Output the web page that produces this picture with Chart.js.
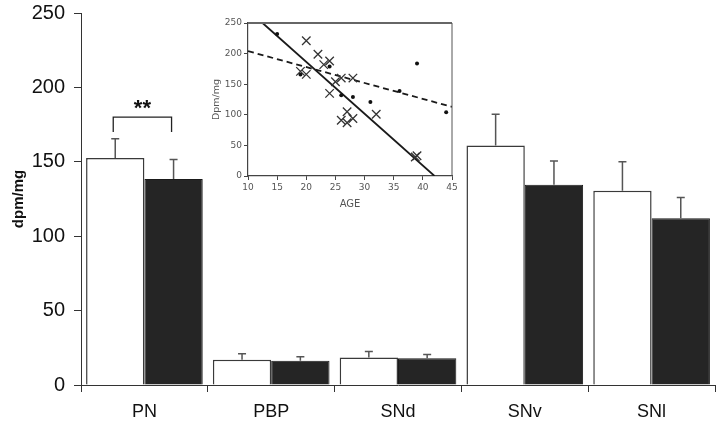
<!DOCTYPE html>
<html lang="en">
<head>
  <meta charset="UTF-8">
  <title>dpm/mg by region</title>
  <script src="https://cdn.jsdelivr.net/npm/chart.js"></script>
  <style>
    body {
      margin: 0;
      background: #ffffff;
    }

    .wrap {
      position: relative;
      width: 720px;
      height: 429px;
    }

    #mainChart {
      position: absolute;
      left: 0;
      top: 0;
    }

    #insetChart {
      position: absolute;
      left: 205px;
      top: 10px;
    }
  </style>
</head>
<body>
  <div class="wrap">
    <canvas id="mainChart" width="720" height="429"></canvas>
    <canvas id="insetChart" width="260" height="200"></canvas>
  </div>

  <script>
    // main bar chart data
    const regions = ["PN", "PBP", "SNd", "SNv", "SNl"];
    const whiteValues = [152.5, 17, 18.5, 161, 130.5];
    const whiteSem = [13, 4, 4, 21, 19.5];
    const blackValues = [138.5, 16.3, 18, 134.5, 112];
    const blackSem = [13, 2.7, 2.5, 16, 14];
    const yTicks = [0, 50, 100, 150, 200, 250];

    // significance bracket over PN
    const sigCategory = 0;
    const sigLow = 170;
    const sigHigh = 180;
    const sigLabel = "**";

    // inset scatter data (age vs dpm/mg)
    const crossAge = [19, 20, 20, 22, 23, 24, 24, 25, 26, 28, 27, 26, 27, 28, 32, 38.7, 39];
    const crossDpm = [171, 166, 221, 199, 182, 188, 135, 154, 160, 160, 105, 91, 87, 94, 101, 31, 33];
    const dotAge = [15, 19, 24, 26, 28, 31, 36, 39, 44];
    const dotDpm = [232, 166, 179, 132, 129, 121, 139, 184, 104];
    const solidLineAge = [12.5, 42];
    const solidLineDpm = [250, 0];
    const dashLineAge = [10, 45];
    const dashLineDpm = [204, 113];
    const insetXTicks = [10, 15, 20, 25, 30, 35, 40, 45];
    const insetYTicks = [0, 50, 100, 150, 200, 250];

    const errorBars = {
      id: "errorBars",
      afterDatasetsDraw(chart) {
        const ctx = chart.ctx;
        const y = chart.scales.y;
        const sems = [whiteSem, blackSem];
        ctx.save();
        ctx.strokeStyle = "#555";
        ctx.lineWidth = 1.5;
        chart.data.datasets.forEach((ds, i) => {
          const meta = chart.getDatasetMeta(i);
          meta.data.forEach((bar, j) => {
            const top = y.getPixelForValue(ds.data[j] + sems[i][j]);
            ctx.beginPath();
            ctx.moveTo(bar.x, bar.y);
            ctx.lineTo(bar.x, top);
            ctx.moveTo(bar.x - 4, top);
            ctx.lineTo(bar.x + 4, top);
            ctx.stroke();
          });
        });

        // bracket
        const x1 = chart.getDatasetMeta(0).data[sigCategory].x - 2;
        const x2 = chart.getDatasetMeta(1).data[sigCategory].x - 2;
        const yHi = y.getPixelForValue(sigHigh);
        const yLo = y.getPixelForValue(sigLow);
        ctx.strokeStyle = "#222";
        ctx.lineWidth = 1.3;
        ctx.beginPath();
        ctx.moveTo(x1, yLo);
        ctx.lineTo(x1, yHi);
        ctx.lineTo(x2, yHi);
        ctx.lineTo(x2, yLo);
        ctx.stroke();
        ctx.fillStyle = "#111";
        ctx.font = "bold 22px 'Liberation Sans', Arial, sans-serif";
        ctx.textAlign = "center";
        ctx.textBaseline = "middle";
        ctx.fillText(sigLabel, (x1 + x2) / 2, yHi - 8);
        ctx.restore();
      }
    };

    // keep the plot area where the layout padding puts it
    const noLabelPadding = s => {
      s.paddingTop = 0;
      s.paddingBottom = 0;
      s.paddingLeft = 0;
      s.paddingRight = 0;
    };

    new Chart(document.getElementById("mainChart"), {
      type: "bar",
      data: {
        labels: regions,
        datasets: [
          {
            label: "white",
            data: whiteValues,
            backgroundColor: "#ffffff",
            borderColor: "#3a3a3a",
            borderWidth: 1.5,
            categoryPercentage: 0.92,
            barPercentage: 1
          },
          {
            label: "black",
            data: blackValues,
            backgroundColor: "#252525",
            borderColor: "#1a1a1a",
            borderWidth: 1,
            categoryPercentage: 0.92,
            barPercentage: 1
          }
        ]
      },
      options: {
        responsive: false,
        animation: false,
        layout: { padding: { top: 13, right: 5, left: 0, bottom: 0 } },
        plugins: {
          legend: { display: false },
          tooltip: { enabled: false }
        },
        scales: {
          x: {
            afterFit: s => { s.height = 44; noLabelPadding(s); },
            border: { display: true, color: "#333", width: 1 },
            grid: { drawOnChartArea: false, drawTicks: true, tickLength: 7, color: "#333" },
            ticks: {
              color: "#111",
              padding: 9,
              font: { family: "'Liberation Sans', Arial, sans-serif", size: 18 }
            }
          },
          y: {
            min: 0,
            max: 250,
            afterFit: s => { s.width = 81; noLabelPadding(s); },
            afterBuildTicks: s => { s.ticks = yTicks.map(v => ({ value: v })); },
            border: { display: true, color: "#333", width: 1 },
            grid: { drawOnChartArea: false, drawTicks: true, tickLength: 7, color: "#333" },
            ticks: {
              color: "#111",
              padding: 9,
              font: { family: "'Liberation Sans', Arial, sans-serif", size: 20 }
            },
            title: {
              display: true,
              text: "dpm/mg",
              color: "#111",
              padding: { top: 10, bottom: 4 },
              font: { family: "'Liberation Sans', Arial, sans-serif", size: 15, weight: "bold" }
            }
          }
        }
      },
      plugins: [errorBars]
    });

    const insetFrame = {
      id: "insetFrame",
      afterDraw(chart) {
        const a = chart.chartArea;
        const ctx = chart.ctx;
        ctx.save();
        ctx.strokeStyle = "#666";
        ctx.lineWidth = 2;
        ctx.beginPath();
        ctx.moveTo(a.left, a.top);
        ctx.lineTo(a.right, a.top);
        ctx.stroke();
        ctx.lineWidth = 1;
        ctx.strokeStyle = "#555";
        ctx.beginPath();
        ctx.moveTo(a.right, a.top);
        ctx.lineTo(a.right, a.bottom);
        ctx.stroke();
        ctx.restore();
      }
    };

    const toPts = (xs, ys) => xs.map((x, i) => ({ x: x, y: ys[i] }));
    const insetFont = { family: "'DejaVu Sans', sans-serif", size: 9 };

    new Chart(document.getElementById("insetChart"), {
      type: "scatter",
      data: {
        datasets: [
          {
            data: toPts(crossAge, crossDpm),
            pointStyle: "crossRot",
            pointRadius: 6,
            borderColor: "#333",
            borderWidth: 1.3,
            backgroundColor: "#333"
          },
          {
            data: toPts(dotAge, dotDpm),
            pointStyle: "circle",
            pointRadius: 2,
            borderWidth: 0,
            backgroundColor: "#111"
          },
          {
            type: "line",
            data: toPts(solidLineAge, solidLineDpm),
            borderColor: "#1a1a1a",
            borderWidth: 1.8,
            pointRadius: 0,
            fill: false
          },
          {
            type: "line",
            data: toPts(dashLineAge, dashLineDpm),
            borderColor: "#1a1a1a",
            borderWidth: 1.8,
            borderDash: [6, 4],
            pointRadius: 0,
            fill: false
          }
        ]
      },
      options: {
        responsive: false,
        animation: false,
        layout: { padding: { top: 13, right: 13, left: 0, bottom: 0 } },
        plugins: {
          legend: { display: false },
          tooltip: { enabled: false }
        },
        scales: {
          x: {
            type: "linear",
            min: 10,
            max: 45,
            afterFit: s => { s.height = 34; noLabelPadding(s); },
            afterBuildTicks: s => { s.ticks = insetXTicks.map(v => ({ value: v })); },
            border: { display: true, color: "#444", width: 1.2 },
            grid: { drawOnChartArea: false, drawTicks: true, tickLength: 4, color: "#444" },
            ticks: { color: "#555", padding: 2, maxRotation: 0, font: insetFont },
            title: {
              display: true,
              text: "AGE",
              color: "#555",
              padding: { top: 0, bottom: 0 },
              font: { family: "'DejaVu Sans', sans-serif", size: 10 }
            }
          },
          y: {
            min: 0,
            max: 250,
            afterFit: s => { s.width = 43; noLabelPadding(s); },
            afterBuildTicks: s => { s.ticks = insetYTicks.map(v => ({ value: v })); },
            border: { display: true, color: "#444", width: 1.2 },
            grid: { drawOnChartArea: false, drawTicks: true, tickLength: 4, color: "#444" },
            ticks: { color: "#555", padding: 2, font: insetFont },
            title: {
              display: true,
              text: "Dpm/mg",
              color: "#555",
              padding: { top: 6, bottom: 0 },
              font: { family: "'DejaVu Sans', sans-serif", size: 9.5 }
            }
          }
        }
      },
      plugins: [insetFrame]
    });
  </script>
</body>
</html>
